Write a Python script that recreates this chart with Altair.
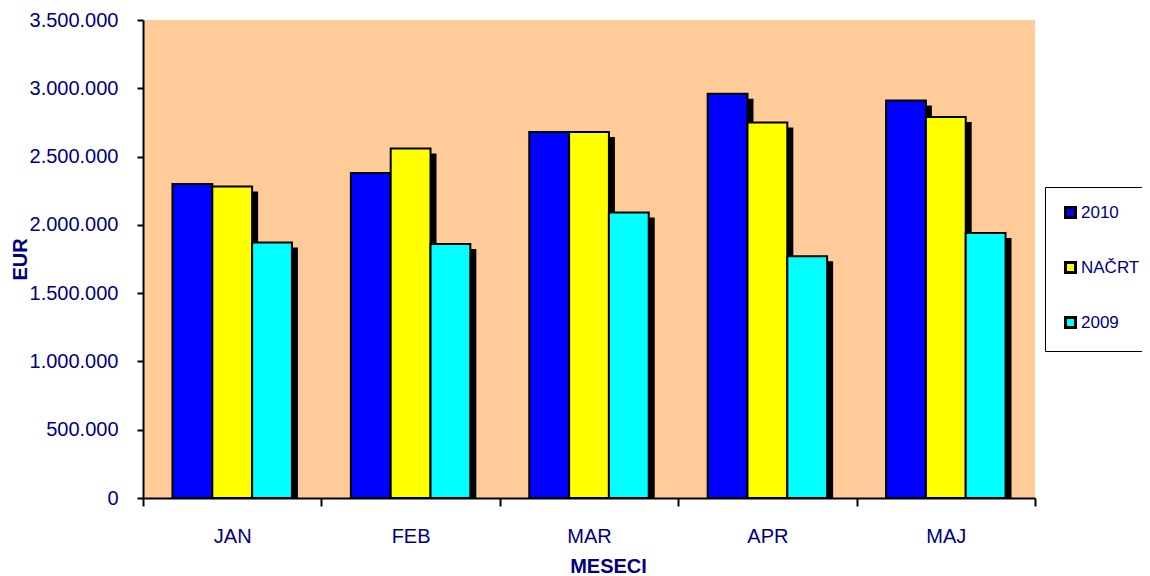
import altair as alt
import pandas as pd

months = ["JAN", "FEB", "MAR", "APR", "MAJ"]
series = ["2010", "NAČRT", "2009"]
v2010 = [2300000, 2380000, 2680000, 2960000, 2910000]
vnacrt = [2280000, 2560000, 2680000, 2750000, 2790000]
v2009 = [1870000, 1860000, 2090000, 1770000, 1940000]
colors = ["#0000FF", "#FFFF00", "#00FFFF"]
y_ticks = [0, 500000, 1000000, 1500000, 2000000, 2500000, 3000000, 3500000]

rows = []
for s, vals in zip(series, [v2010, vnacrt, v2009]):
    for m, v in zip(months, vals):
        rows.append({"mesec": m, "serija": s, "eur": v})
df = pd.DataFrame(rows)

navy = "#000080"
font = "Liberation Sans"
PLOT_W = 892
PLOT_H = 478
STEP = PLOT_W / len(months)
SHADOW_DX = 6

x_enc = alt.X(
    "mesec:N",
    sort=months,
    scale=alt.Scale(paddingInner=0, paddingOuter=0),
    axis=alt.Axis(
        title="MESECI",
        labelAngle=0,
        tickBand="extent",
        tickSize=8,
        tickWidth=2,
        tickColor="black",
        domainColor="black",
        domainWidth=2,
        labelFont=font,
        labelFontSize=20,
        labelColor=navy,
        labelPadding=20,
        titleFont=font,
        titleFontSize=20,
        titleFontWeight="bold",
        titleColor=navy,
        titleX=465,
        titleY=68,
        titleBaseline="middle",
        titleAlign="center",
    ),
)

y_enc = alt.Y(
    "eur:Q",
    scale=alt.Scale(domain=[0, 3500000], nice=False),
    axis=alt.Axis(
        title="EUR",
        values=y_ticks,
        grid=False,
        tickSize=6,
        tickWidth=2,
        tickColor="black",
        domainColor="black",
        domainWidth=2,
        labelFont=font,
        labelFontSize=20,
        labelColor=navy,
        labelPadding=19,
        labelExpr="replace(replace(format(datum.value, ',d'), ',', '.'), ',', '.')",
        titleFont=font,
        titleFontSize=20,
        titleFontWeight="bold",
        titleColor=navy,
        titleAngle=270,
        titleX=-123,
        titleY=239,
        titleBaseline="middle",
        titleAlign="center",
    ),
)

base = alt.Chart(df)

shadow = base.mark_bar(color="black", yOffset=5, y2Offset=0).encode(
    x=x_enc,
    y=y_enc,
    y2=alt.datum(0),
    xOffset=alt.XOffset(
        "serija:N",
        sort=series,
        scale=alt.Scale(paddingInner=0, paddingOuter=0.74, range=[SHADOW_DX, STEP + SHADOW_DX]),
    ),
)

bars = base.mark_bar(stroke="black", strokeWidth=2).encode(
    x=x_enc,
    y=y_enc,
    y2=alt.datum(0),
    xOffset=alt.XOffset(
        "serija:N",
        sort=series,
        scale=alt.Scale(paddingInner=0, paddingOuter=0.74),
    ),
    color=alt.Color(
        "serija:N",
        sort=series,
        scale=alt.Scale(domain=series, range=colors),
        legend=alt.Legend(
            title=None,
            orient="none",
            legendX=902,
            legendY=167,
            fillColor="white",
            strokeColor="black",
            padding=17,
            rowPadding=32,
            symbolType="square",
            symbolSize=100,
            symbolStrokeColor="black",
            symbolStrokeWidth=3,
            labelFont=font,
            labelFontSize=17,
            labelColor=navy,
            labelOffset=2,
        ),
    ),
)

chart = (
    alt.layer(shadow, bars)
    .resolve_scale(xOffset="independent")
    .properties(
        width=PLOT_W,
        height=PLOT_H,
        autosize=alt.AutoSizeParams(type="none"),
        padding={"left": 135, "top": 12, "right": 107, "bottom": 78},
        background="white",
    )
    .configure_view(fill="#FFCC99", strokeWidth=0)
)

chart.save("out.html", embed_options={"renderer": "svg", "actions": False})
